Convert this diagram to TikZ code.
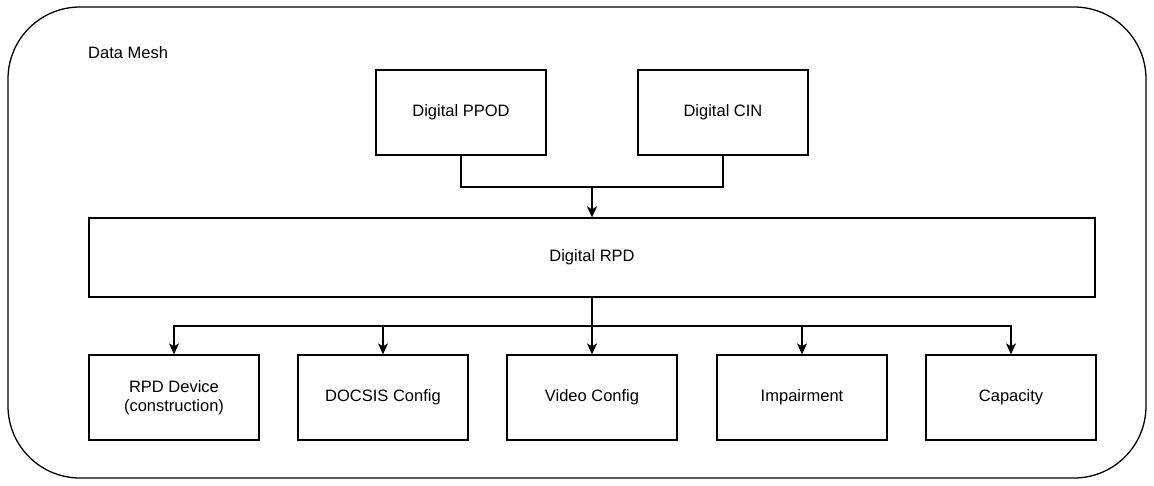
\documentclass[tikz,border=0pt]{standalone}
\usepackage{fontspec}
\setmainfont{Liberation Sans}
\usetikzlibrary{arrows.meta}
\begin{document}
\begin{tikzpicture}[x=1pt,y=-1pt,
  lbl/.style={font=\fontsize{16.5}{19.5}\selectfont},
  box/.style={draw, line width=1.3pt, minimum width=170pt, minimum height=85pt, align=center, inner sep=0pt, lbl},
  conn/.style={line width=1.3pt, -{Stealth[length=11pt,width=10pt,inset=3pt]}},
  wire/.style={line width=1.3pt}]
\useasboundingbox (0,0) rectangle (1154,485);
\draw[line width=1.3pt, rounded corners=72pt] (8,7) rectangle (1146,478);
\node[anchor=west, inner sep=0pt, lbl] (title) at (88,53) {Data Mesh};
\node[box] (ppod) at (461,112.5) {Digital PPOD};
\node[box] (cin) at (723,112.5) {Digital CIN};
\node[box, minimum width=1006pt, minimum height=79pt] (rpd) at (592,257.5) {Digital RPD};
\node[box] (dev) at (174,397.5) {RPD Device\\(construction)};
\node[box] (docsis) at (383,397.5) {DOCSIS Config};
\node[box] (video) at (592,397.5) {Video Config};
\node[box] (imp) at (802,397.5) {Impairment};
\node[box] (cap) at (1011,397.5) {Capacity};
\coordinate (top) at (592,187);
\coordinate (bus) at (592,326);
\draw[wire] (ppod.south) |- (top) -| (cin.south);
\draw[conn] (top) -- (rpd.north);
\draw[conn] (rpd.south) -- (video.north);
\draw[conn] (bus) -| (dev.north);
\draw[conn] (bus) -| (docsis.north);
\draw[conn] (bus) -| (imp.north);
\draw[conn] (bus) -| (cap.north);
\end{tikzpicture}
\end{document}
